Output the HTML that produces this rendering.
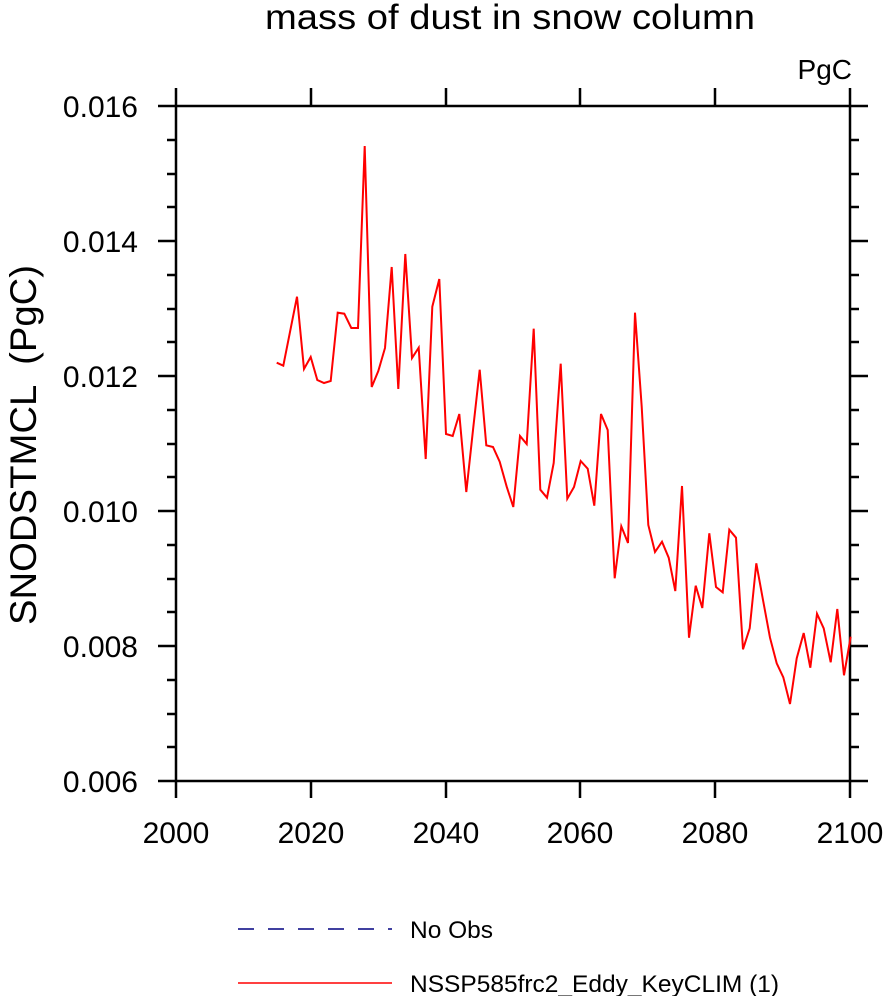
<!DOCTYPE html>
<html><head><style>body{margin:0;background:#fff}</style></head><body>
<svg width="885" height="996" xmlns="http://www.w3.org/2000/svg" font-family="Liberation Sans, sans-serif">
<text x="510" y="29" font-size="35" text-anchor="middle" textLength="490" lengthAdjust="spacingAndGlyphs">mass of dust in snow column</text>
<text x="852" y="79" font-size="28" text-anchor="end">PgC</text>
<g stroke="#000" stroke-width="2.5" fill="none">
<rect x="176" y="106" width="674" height="675"/>
<path d="M176 781v17M311 781v17M446 781v17M580 781v17M715 781v17M850 781v17M176 106v-18M311 106v-18M446 106v-18M580 106v-18M715 106v-18M850 106v-18"/>
<path d="M158 106h18M158 241h18M158 376h18M158 511h18M158 646h18M158 781h18M850 106h18M850 241h18M850 376h18M850 511h18M850 646h18M850 781h18"/>
<path d="M167 140h9M167 174h9M167 207h9M167 275h9M167 309h9M167 342h9M167 410h9M167 444h9M167 477h9M167 545h9M167 579h9M167 612h9M167 680h9M167 714h9M167 747h9M850 140h9M850 174h9M850 207h9M850 275h9M850 309h9M850 342h9M850 410h9M850 444h9M850 477h9M850 545h9M850 579h9M850 612h9M850 680h9M850 714h9M850 747h9"/>
</g>
<g font-size="30" text-anchor="end">
<text x="138" y="117">0.016</text><text x="138" y="252">0.014</text><text x="138" y="387">0.012</text><text x="138" y="522">0.010</text><text x="138" y="657">0.008</text><text x="138" y="792">0.006</text>
</g>
<g font-size="30" text-anchor="middle">
<text x="176" y="843">2000</text><text x="311" y="843">2020</text><text x="446" y="843">2040</text><text x="580" y="843">2060</text><text x="715" y="843">2080</text><text x="850" y="843">2100</text>
</g>
<text transform="translate(36,445) rotate(-90)" font-size="37" text-anchor="middle" textLength="360" lengthAdjust="spacingAndGlyphs" xml:space="preserve">SNODSTMCL  (PgC)</text>
<polyline fill="none" stroke="#f00" stroke-width="2" points="276.7,362.7 283.3,365.7 297,296.7 304,369 310.7,357 317.3,380 324,383 330.7,381 337.7,312.7 344.3,313.7 351.3,328 358,328 364.7,146 371.7,387 378.3,371 385,348 391.7,267 398.3,389 405.3,254 412,358 418.7,347.7 425.7,459 432.3,306.7 439.3,279 446,434 452.7,436 459.3,414 466.3,492 473,430 479.7,369.7 486.3,445.3 493,447 499.7,461.7 506.7,486.7 513.3,507 520,436 526.7,444 533.7,328.7 540.3,489.7 547,497.7 553.7,463 560.7,363.7 567.3,498.7 574,487 580.7,461 587.7,468.7 594.3,505.7 601,414 607.7,430 614.7,578.3 621.3,526.3 628,543 635,312.7 641.7,406.7 648.3,525 655,552 662,541.7 668.7,557.7 675.3,591 682,486 689,637.7 695.7,585.7 702.3,608 709.3,533.3 716,587 722.7,592.3 729.3,529.7 736,537.7 743,649.3 749.7,628.3 756.3,563.3 763,600 770,637.7 776.7,663.3 783.3,677.3 790,704 796.7,658.3 803.7,633 810.3,667.7 817,613.7 823.7,628.3 830.7,662.3 837.3,609 844,675.3 850.7,636.7"/>
<line x1="238" y1="929" x2="392" y2="929" stroke="#000080" stroke-width="1.5" stroke-dasharray="16,14"/>
<text x="410" y="938" font-size="24.5">No Obs</text>
<line x1="238" y1="983" x2="392" y2="983" stroke="#f00" stroke-width="1.5"/>
<text x="410" y="992" font-size="24.5">NSSP585frc2_Eddy_KeyCLIM (1)</text>
</svg>
</body></html>
